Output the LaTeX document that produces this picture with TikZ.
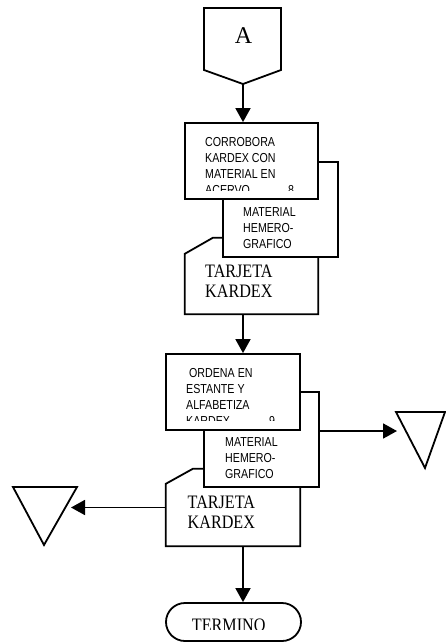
\documentclass[tikz,border=0pt]{standalone}
\usepackage{fontspec}
\setmainfont{Liberation Serif}
\newfontfamily\boxfont[FakeStretch=0.82]{Liberation Sans}
\newfontfamily\cardfont[FakeStretch=0.85]{Liberation Serif}
\usetikzlibrary{arrows.meta}
\tikzset{
  flow/.style={line width=1.8pt, -{Triangle[length=14pt,width=15pt]}},
  outline/.style={draw, fill=white, line width=1.8pt},
  procbox/.style={outline, inner sep=0pt},
  cardarea/.style={inner sep=0pt},
  boxtext/.style={anchor=north west, inner sep=0pt, align=left,
    font=\boxfont\fontsize{13}{16}\selectfont},
  cardtext/.style={anchor=north west, inner sep=0pt, align=left,
    font=\cardfont\fontsize{19}{20}\selectfont},
}
\begin{document}
\begin{tikzpicture}[x=1pt,y=-1pt]
  \useasboundingbox (0,0) rectangle (446,643);
  % Off-page connector (top)
  \draw[line width=1.8pt] (204,8) -- (281,8) -- (281,70) -- (243,84) -- (204,70) -- cycle;
  \node[font=\fontsize{24}{24}\selectfont, inner sep=0pt] (offA) at (243.5,35.3) {A};
  \coordinate (Atip) at (243,84);
  % Step 8: card, document, process
  \node[cardarea, minimum width=133pt, minimum height=76pt] (k1) at (251.5,276) {};
  \path[outline] (k1.south west) -- ([yshift=-16pt]k1.north west) -- ([xshift=28pt]k1.north west)
    -- (k1.north east) -- (k1.south east) -- cycle;
  \node[cardtext] (k1txt) at (205,265) {TARJETA\\KARDEX};
  \node[procbox, minimum width=115pt, minimum height=95pt] (m1) at (280.5,209.5) {};
  \node[boxtext] (m1txt) at (243,207) {MATERIAL\\HEMERO-\\GRAFICO};
  \node[procbox, minimum width=133pt, minimum height=76pt] (b1) at (251.5,161) {};
  \begin{scope}
    \clip (b1.north west) rectangle ([yshift=9pt]b1.south east);
    \node[boxtext] (b1txt) at (205,137.5) {CORROBORA\\KARDEX CON\\MATERIAL EN\\ACERVO\hspace{38pt}8};
  \end{scope}
  % Step 9: card, document, process
  \node[cardarea, minimum width=134pt, minimum height=77pt] (k2) at (233,507.5) {};
  \path[outline] (k2.south west) -- ([yshift=-15pt]k2.north west) -- ([xshift=27pt]k2.north west)
    -- (k2.north east) -- (k2.south east) -- cycle;
  \node[cardtext] (k2txt) at (187.5,496) {TARJETA\\KARDEX};
  \node[procbox, minimum width=115pt, minimum height=95pt] (m2) at (261.5,439.5) {};
  \node[boxtext] (m2txt) at (225,437) {MATERIAL\\HEMERO-\\GRAFICO};
  \node[procbox, minimum width=134pt, minimum height=76pt] (b2) at (233,392) {};
  \begin{scope}
    \clip (b2.north west) rectangle ([yshift=10pt]b2.south east);
    \node[boxtext] (b2txt) at (186,368) {\hspace{3pt}ORDENA EN\\ESTANTE Y\\ALFABETIZA\\KARDEX\hspace{39pt}9};
  \end{scope}
  % Storage triangles
  \draw[line width=1.8pt] (396,412) -- (445,412) -- (425,468) -- cycle;
  \coordinate (sinkR) at (397,431);
  \draw[line width=1.8pt] (13,487) -- (77,487) -- (44,545) -- cycle;
  \coordinate (sinkL) at (71,507.5);
  % End terminal
  \node[procbox, rounded corners=19pt, minimum width=135pt, minimum height=38pt] (term) at (233.5,622) {};
  \begin{scope}
    \clip (term.north west) rectangle ([yshift=12pt]term.south east);
    \node[cardtext] (termtxt) at (191.7,619) {TERMINO};
  \end{scope}
  % Connectors
  \draw[flow] (Atip) -- (Atip |- b1.north);
  \draw[flow] (k1.south -| Atip) -- (b2.north -| Atip);
  \draw[flow] ([yshift=8.5pt]m2.east) -- (sinkR);
  \draw[flow] (k2.west) -- (sinkL);
  \draw[flow] (k2.south -| Atip) -- (term.north -| Atip);
\end{tikzpicture}
\end{document}
